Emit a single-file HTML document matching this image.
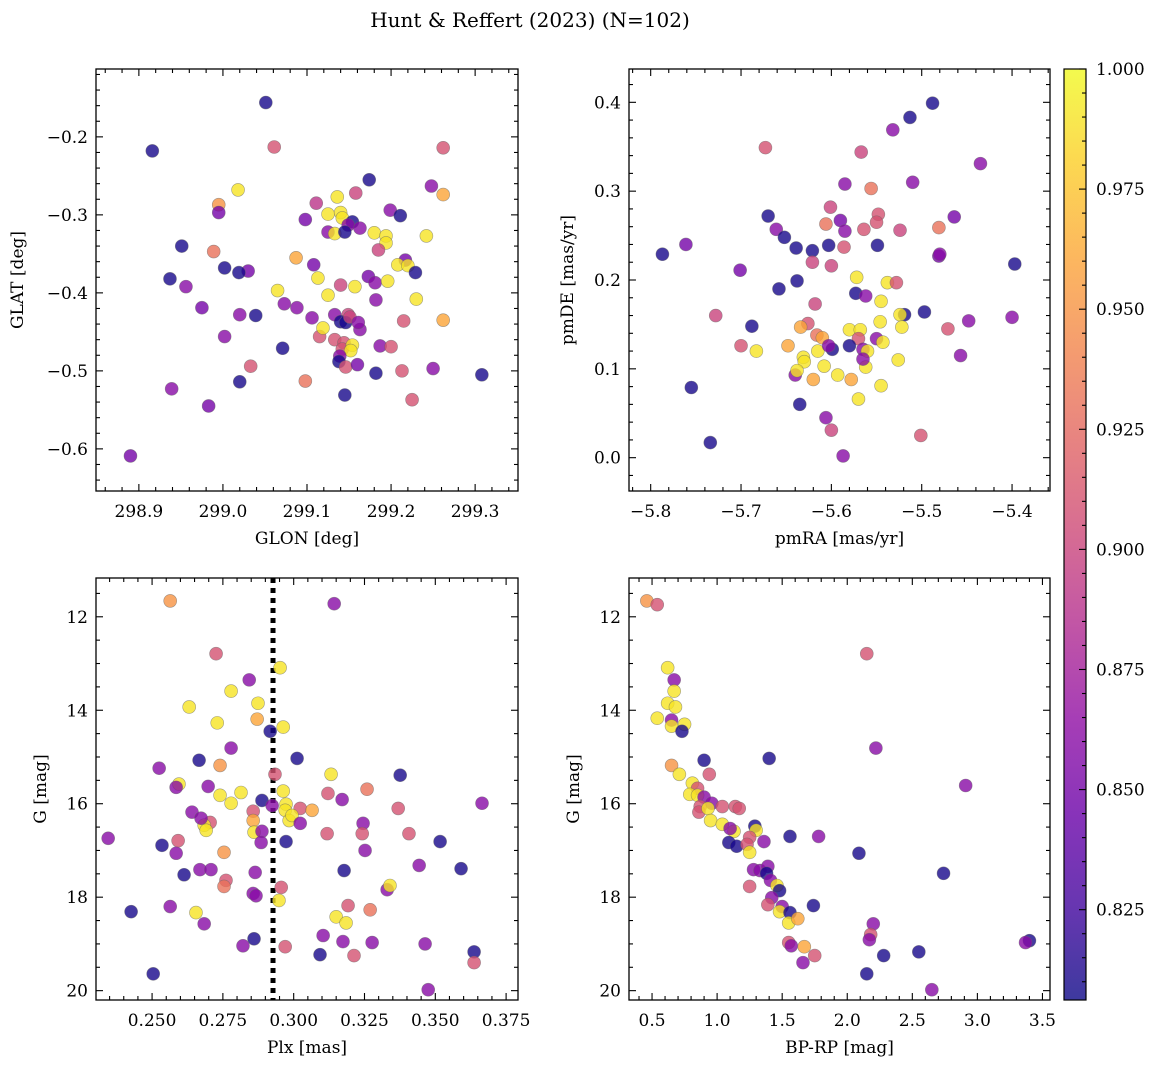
<!DOCTYPE html>
<html><head><meta charset="utf-8"><style>
html,body{margin:0;padding:0;background:#fff;}
svg text{font-family:"DejaVu Serif","Liberation Serif",serif;fill:#000;}
</style></head><body>
<svg id="fig" width="1161" height="1068" viewBox="0 0 1161 1068" xmlns="http://www.w3.org/2000/svg">
<rect width="1161" height="1068" fill="#fff"/>
<text x="530" y="27" font-size="20" text-anchor="middle">Hunt &amp; Reffert (2023) (N=102)</text>
</svg>
<script>
// ---- Panel 1: GLON / GLAT ----
const p1_glon=[299.051,298.916,299.061,299.262,299.018,299.248,299.262,299.174,299.158,298.995,298.995,299.111,299.125,299.136,299.140,299.142,299.098,299.154,299.149,299.163,299.199,299.211,299.125,299.133,299.145,299.180,299.194,299.194,299.242,298.951,298.989,299.185,299.217,299.208,299.220,298.956,299.002,299.030,299.019,299.087,299.108,299.113,299.140,299.173,299.181,299.196,299.229,298.937,299.065,299.125,299.157,299.073,299.088,299.106,299.133,299.149,299.140,299.146,299.151,299.163,299.161,299.182,299.230,299.215,299.262,299.002,299.115,299.119,299.133,299.144,299.142,299.154,299.152,299.139,299.138,299.146,299.071,299.039,299.020,298.975,299.187,299.200,299.213,299.160,299.182,299.033,299.098,298.939,299.020,298.983,299.225,299.250,299.145,299.308,298.890];
const p1_glat=[-0.156,-0.218,-0.213,-0.214,-0.268,-0.263,-0.274,-0.255,-0.272,-0.287,-0.297,-0.285,-0.299,-0.277,-0.297,-0.304,-0.306,-0.309,-0.313,-0.317,-0.294,-0.301,-0.322,-0.324,-0.322,-0.323,-0.327,-0.336,-0.327,-0.340,-0.347,-0.345,-0.358,-0.364,-0.365,-0.392,-0.368,-0.372,-0.374,-0.355,-0.364,-0.381,-0.390,-0.379,-0.387,-0.385,-0.374,-0.382,-0.397,-0.403,-0.392,-0.414,-0.419,-0.432,-0.428,-0.428,-0.437,-0.438,-0.431,-0.447,-0.438,-0.409,-0.408,-0.436,-0.435,-0.456,-0.456,-0.445,-0.460,-0.464,-0.472,-0.467,-0.474,-0.481,-0.488,-0.495,-0.471,-0.429,-0.428,-0.419,-0.468,-0.469,-0.500,-0.492,-0.503,-0.494,-0.513,-0.523,-0.514,-0.545,-0.537,-0.497,-0.531,-0.505,-0.609];
const p1_prob=[.81,.81,.91,.91,.99,.86,.96,.81,.90,.95,.85,.89,.99,.99,.99,.99,.85,.81,.86,.86,.86,.81,.86,.99,.81,.99,.99,.99,.99,.81,.93,.90,.85,.99,.99,.86,.81,.85,.81,.96,.85,.99,.90,.85,.86,.99,.81,.81,.99,.99,.99,.86,.86,.86,.86,.90,.81,.81,.90,.86,.86,.86,.99,.91,.96,.86,.91,.99,.91,.91,.91,.99,.99,.86,.81,.91,.81,.81,.86,.85,.86,.91,.91,.85,.81,.91,.93,.86,.81,.85,.91,.86,.81,.81,.85];
// ---- Panel 2: pmRA / pmDE ----
const p2_pmra=[-5.488,-5.513,-5.532,-5.435,-5.673,-5.567,-5.585,-5.556,-5.510,-5.548,-5.550,-5.670,-5.601,-5.464,-5.661,-5.652,-5.606,-5.590,-5.585,-5.564,-5.524,-5.481,-5.787,-5.761,-5.639,-5.621,-5.603,-5.586,-5.549,-5.621,-5.600,-5.572,-5.701,-5.658,-5.638,-5.573,-5.562,-5.538,-5.528,-5.481,-5.397,-5.480,-5.545,-5.519,-5.524,-5.497,-5.448,-5.471,-5.400,-5.728,-5.688,-5.618,-5.626,-5.634,-5.616,-5.610,-5.580,-5.568,-5.546,-5.522,-5.570,-5.550,-5.543,-5.700,-5.683,-5.648,-5.615,-5.599,-5.603,-5.580,-5.565,-5.560,-5.631,-5.630,-5.640,-5.638,-5.608,-5.593,-5.620,-5.578,-5.562,-5.526,-5.565,-5.457,-5.545,-5.570,-5.755,-5.635,-5.606,-5.600,-5.501,-5.587,-5.734];
const p2_pmde=[0.399,0.383,0.369,0.331,0.349,0.344,0.308,0.303,0.310,0.274,0.265,0.272,0.282,0.271,0.257,0.248,0.263,0.267,0.255,0.257,0.256,0.259,0.229,0.240,0.236,0.233,0.239,0.237,0.239,0.220,0.216,0.203,0.211,0.190,0.199,0.185,0.182,0.197,0.197,0.227,0.218,0.229,0.176,0.161,0.161,0.164,0.154,0.145,0.158,0.160,0.148,0.173,0.151,0.147,0.138,0.135,0.144,0.144,0.153,0.147,0.134,0.134,0.130,0.126,0.120,0.126,0.120,0.122,0.126,0.126,0.122,0.120,0.113,0.108,0.093,0.098,0.103,0.093,0.088,0.088,0.102,0.110,0.111,0.115,0.081,0.066,0.079,0.060,0.045,0.031,0.025,0.002,0.017];
const p2_prob=[.81,.81,.86,.86,.91,.90,.86,.93,.86,.91,.91,.81,.90,.85,.86,.81,.93,.85,.86,.91,.90,.93,.81,.85,.81,.81,.81,.91,.81,.90,.90,.99,.85,.81,.81,.81,.86,.99,.91,.85,.81,.86,.99,.81,.99,.81,.86,.91,.86,.90,.81,.90,.91,.96,.93,.96,.99,.99,.99,.99,.91,.86,.99,.91,.99,.96,.99,.81,.86,.81,.86,.99,.99,.99,.86,.99,.99,.99,.96,.96,.99,.99,.86,.86,.99,.99,.81,.81,.86,.90,.91,.86,.81];
// ---- Panel 3: Plx / G ----
const p3_plx=[.2564,.3143,.2726,.2952,.2843,.2779,.2631,.2874,.2730,.2871,.2963,.2779,.2917,.2740,.2666,.2525,.3012,.2934,.3132,.3376,.2595,.2585,.2698,.2740,.2814,.2963,.3121,.3259,.2888,.2779,.2857,.2924,.2973,.2970,.3023,.3065,.3171,.3369,.3665,.2641,.2705,.2857,.2984,.2994,.3023,.3245,.2860,.2684,.2691,.2673,.3118,.2888,.3242,.3407,.2345,.3517,.2592,.2885,.2973,.2535,.2585,.2754,.3252,.2669,.2708,.2864,.3178,.3443,.3591,.2613,.2761,.2754,.2956,.2857,.3330,.3340,.2426,.2564,.2655,.2867,.2948,.3192,.3270,.3150,.3185,.2684,.3104,.3174,.3277,.3464,.2860,.2821,.2970,.3093,.3213,.3637,.3637,.2504,.3475];
const p3_g=[11.66,11.72,12.79,13.09,13.35,13.59,13.93,13.85,14.27,14.19,14.36,14.81,14.45,15.18,15.07,15.24,15.03,15.37,15.37,15.39,15.58,15.65,15.63,15.82,15.76,15.73,15.78,15.69,15.93,15.99,16.16,16.04,16.01,16.14,16.10,16.14,15.91,16.10,15.99,16.18,16.40,16.36,16.36,16.25,16.42,16.42,16.61,16.46,16.57,16.31,16.64,16.59,16.64,16.64,16.74,16.81,16.79,16.83,16.81,16.89,17.06,17.04,17.00,17.41,17.41,17.47,17.43,17.32,17.39,17.52,17.64,17.77,17.79,17.92,17.84,17.75,18.31,18.20,18.33,17.97,18.07,18.18,18.27,18.42,18.55,18.57,18.82,18.95,18.97,19.00,18.89,19.04,19.06,19.23,19.25,19.17,19.40,19.64,19.98];
const p3_prob=[.95,.86,.91,.99,.86,.99,.99,.99,.99,.96,.99,.86,.81,.95,.81,.86,.81,.91,.99,.81,.99,.86,.86,.99,.99,.99,.91,.93,.81,.99,.91,.86,.99,.99,.91,.96,.86,.91,.86,.86,.91,.96,.99,.99,.86,.86,.99,.99,.99,.86,.91,.86,.91,.91,.86,.81,.91,.86,.81,.81,.86,.95,.86,.86,.86,.86,.81,.86,.81,.81,.91,.93,.91,.86,.86,.99,.81,.86,.99,.86,.99,.91,.93,.99,.99,.86,.86,.86,.86,.86,.81,.86,.91,.81,.91,.81,.91,.81,.86];
const p3_plxCut=0.2927;
// ---- Panel 4: BP-RP / G ----
const p4_bprp=[0.46,0.54,2.15,0.62,0.67,0.67,0.62,0.68,0.54,0.65,0.65,0.75,0.73,2.22,0.65,0.90,1.40,0.71,0.94,0.81,0.85,0.79,0.85,0.90,2.91,0.87,0.86,0.96,0.93,1.04,1.14,1.17,0.95,1.04,1.13,1.10,1.29,1.30,1.56,1.78,1.09,1.15,1.25,1.23,1.36,1.25,2.09,1.28,1.33,1.39,1.38,2.74,1.41,1.46,1.25,1.48,1.42,1.50,1.39,1.74,1.48,1.56,1.55,1.62,2.20,2.18,2.17,1.55,1.57,1.67,3.40,3.37,2.55,2.28,1.75,1.66,2.15,2.65];
const p4_g=[11.66,11.74,12.79,13.09,13.35,13.59,13.85,13.93,14.17,14.21,14.34,14.30,14.45,14.81,15.18,15.07,15.03,15.37,15.37,15.56,15.67,15.80,15.82,15.86,15.61,16.06,16.18,15.99,16.10,16.06,16.06,16.10,16.36,16.44,16.59,16.53,16.48,16.57,16.70,16.70,16.83,16.91,16.72,16.87,16.81,17.04,17.06,17.41,17.43,17.34,17.49,17.49,17.64,17.75,17.77,17.86,18.01,18.20,18.16,18.18,18.31,18.33,18.55,18.46,18.57,18.80,18.91,18.97,19.04,19.06,18.93,18.97,19.17,19.25,19.25,19.40,19.64,19.98];
const p4_prob=[.95,.91,.91,.99,.86,.99,.99,.99,.99,.86,.99,.99,.81,.86,.95,.81,.81,.99,.91,.99,.91,.99,.99,.86,.86,.91,.91,.86,.99,.91,.91,.91,.99,.99,.99,.86,.81,.99,.81,.86,.81,.81,.91,.91,.86,.99,.81,.86,.86,.86,.81,.81,.86,.99,.91,.81,.86,.86,.91,.81,.99,.81,.99,.96,.86,.91,.86,.91,.86,.96,.81,.86,.81,.81,.91,.86,.81,.86];
// colorbar
const cb_ticks=[0.825,0.850,0.875,0.900,0.925,0.950,0.975,1.000];
const vmin=0.8062, vmax=1.0;

const NS='http://www.w3.org/2000/svg';
const svg=document.getElementById('fig');
function mk(tag,attrs,parent){const e=document.createElementNS(NS,tag);for(const k in attrs)e.setAttribute(k,attrs[k]);(parent||svg).appendChild(e);return e;}
const stops=[[13,8,135],[65,4,157],[106,0,168],[143,13,164],[177,42,144],[204,71,120],[225,100,98],[242,132,75],[252,166,54],[252,206,37],[240,249,33]];
function plasma(t){t=Math.max(0,Math.min(1,t));const f=t*10,i=Math.min(9,Math.floor(f)),u=f-i;const a=stops[i],b=stops[i+1];return 'rgb('+[0,1,2].map(k=>Math.round(a[k]+(b[k]-a[k])*u)).join(',')+')';}
function fmt(v,d){const s=Math.abs(v).toFixed(d);return (v<-1e-9?'\u2212':'')+s;}

function panel(c){
  const g=mk('g',{});
  
  
  const sx=v=>c.x0+(v-c.xmin)/(c.xmax-c.xmin)*c.w;
  const sy=v=>c.y0+c.h-(v-c.ymin)/(c.ymax-c.ymin)*c.h;
  const clip='clip-'+c.name;
  const cp=mk('clipPath',{id:clip},g);mk('rect',{x:c.x0,y:c.y0,width:c.w,height:c.h},cp);
  const pg=mk('g',{'clip-path':'url(#'+clip+')'},g);
  if(c.vline!==undefined){const l=mk('line',{x1:sx(c.vline),x2:sx(c.vline),y1:c.y0,y2:c.y0+c.h,stroke:'#000','stroke-width':5,'stroke-dasharray':'5,5'},pg);
    }
  for(let i=0;i<c.xs.length;i++){
    const p=mk('circle',{cx:sx(c.xs[i]),cy:sy(c.ys[i]),r:6.5,fill:plasma((c.ps[i]-vmin)/(vmax-vmin)),'fill-opacity':0.8,stroke:'#666','stroke-opacity':0.6,'stroke-width':0.6},pg);
    
    
  }
  mk('rect',{x:c.x0,y:c.y0,width:c.w,height:c.h,fill:'none',stroke:'#000','stroke-width':1.3},g);
  const lo=Math.min(c.ymin,c.ymax),hi=Math.max(c.ymin,c.ymax);
  for(let v=Math.ceil(c.xmin/c.xmn-1e-6)*c.xmn;v<=c.xmax+1e-9;v+=c.xmn){
    const maj=Math.abs(v/c.xmj-Math.round(v/c.xmj))<1e-4, L=maj?7:4, X=sx(v);
    mk('line',{x1:X,x2:X,y1:c.y0+c.h,y2:c.y0+c.h-L,stroke:'#000','stroke-width':1.1},g);
    mk('line',{x1:X,x2:X,y1:c.y0,y2:c.y0+L,stroke:'#000','stroke-width':1.1},g);
  }
  for(let v=Math.ceil(lo/c.ymn-1e-6)*c.ymn;v<=hi+1e-9;v+=c.ymn){
    const maj=Math.abs(v/c.ymj-Math.round(v/c.ymj))<1e-4, L=maj?7:4, Y=sy(v);
    mk('line',{x1:c.x0,x2:c.x0+L,y1:Y,y2:Y,stroke:'#000','stroke-width':1.1},g);
    mk('line',{x1:c.x0+c.w,x2:c.x0+c.w-L,y1:Y,y2:Y,stroke:'#000','stroke-width':1.1},g);
  }
  c.xt.forEach(v=>{const t=mk('text',{x:sx(v),y:c.y0+c.h+26,'font-size':17,'text-anchor':'middle'},g);t.textContent=fmt(v,c.xd);
    });
  c.yt.forEach(v=>{const t=mk('text',{x:c.x0-8,y:sy(v)+6,'font-size':17,'text-anchor':'end'},g);t.textContent=fmt(v,c.yd);
    });
  const xl=mk('text',{x:c.x0+c.w/2,y:c.y0+c.h+53,'font-size':17,'text-anchor':'middle'},g);xl.textContent=c.xlabel;
  
  const yl=mk('text',{x:0,y:0,'font-size':17,'text-anchor':'middle',transform:'translate('+c.ylx+','+(c.y0+c.h/2)+') rotate(-90)'},g);yl.textContent=c.ylabel;
  
}
panel({name:'glon-glat-panel',x0:96,y0:69,w:422,h:422,xmin:298.849,xmax:299.351,ymin:-0.654,ymax:-0.113,xmj:0.1,xmn:0.02,ymj:0.1,ymn:0.02,
  xt:[298.9,299.0,299.1,299.2,299.3],xd:1,yt:[-0.2,-0.3,-0.4,-0.5,-0.6],yd:1,xlabel:'GLON [deg]',ylabel:'GLAT [deg]',ylx:23,xs:p1_glon,ys:p1_glat,ps:p1_prob});
panel({name:'pm-panel',x0:629,y0:69,w:421,h:422,xmin:-5.824,xmax:-5.358,ymin:-0.0375,ymax:0.4375,xmj:0.1,xmn:0.02,ymj:0.1,ymn:0.02,
  xt:[-5.8,-5.7,-5.6,-5.5,-5.4],xd:1,yt:[0,0.1,0.2,0.3,0.4],yd:1,xlabel:'pmRA [mas/yr]',ylabel:'pmDE [mas/yr]',ylx:573,xs:p2_pmra,ys:p2_pmde,ps:p2_prob});
panel({name:'plx-g-panel',x0:96,y0:578,w:422,h:422,xmin:0.2302,xmax:0.3792,ymin:20.2,ymax:11.17,xmj:0.025,xmn:0.005,ymj:2,ymn:0.5,
  xt:[0.25,0.275,0.3,0.325,0.35,0.375],xd:3,yt:[12,14,16,18,20],yd:0,xlabel:'Plx [mas]',ylabel:'G [mag]',ylx:46,xs:p3_plx,ys:p3_g,ps:p3_prob,vline:p3_plxCut});
panel({name:'cmd-panel',x0:629,y0:578,w:421,h:422,xmin:0.323,xmax:3.558,ymin:20.2,ymax:11.17,xmj:0.5,xmn:0.1,ymj:2,ymn:0.5,
  xt:[0.5,1.0,1.5,2.0,2.5,3.0,3.5],xd:1,yt:[12,14,16,18,20],yd:0,xlabel:'BP-RP [mag]',ylabel:'G [mag]',ylx:579,xs:p4_bprp,ys:p4_g,ps:p4_prob});

// colorbar
(function(){
  const x0=1064,w=22,y0=69,h=931;
  const g=mk('g',{});
  const defs=mk('defs',{},g);const lg=mk('linearGradient',{id:'cbg',x1:0,y1:1,x2:0,y2:0},defs);
  for(let i=0;i<=20;i++)mk('stop',{offset:i/20,'stop-color':plasma(i/20),'stop-opacity':0.8},lg);
  mk('rect',{x:x0,y:y0,width:w,height:h,fill:'url(#cbg)'},g);
  mk('rect',{x:x0,y:y0,width:w,height:h,fill:'none',stroke:'#000','stroke-width':1.2},g);
  const sy=v=>y0+h-(v-vmin)/(vmax-vmin)*h;
  for(let v=0.81;v<=1.0001;v+=0.005){const Y=sy(v);const maj=Math.abs(v/0.025-Math.round(v/0.025))<1e-4;
    mk('line',{x1:x0+w,x2:x0+w-(maj?7:4),y1:Y,y2:Y,stroke:'#000','stroke-width':1.1},g);}
  cb_ticks.forEach(v=>{const t=mk('text',{x:x0+w+10,y:sy(v)+6,'font-size':17},g);t.textContent=v.toFixed(3);
    });
})();
</script>
</body></html>
